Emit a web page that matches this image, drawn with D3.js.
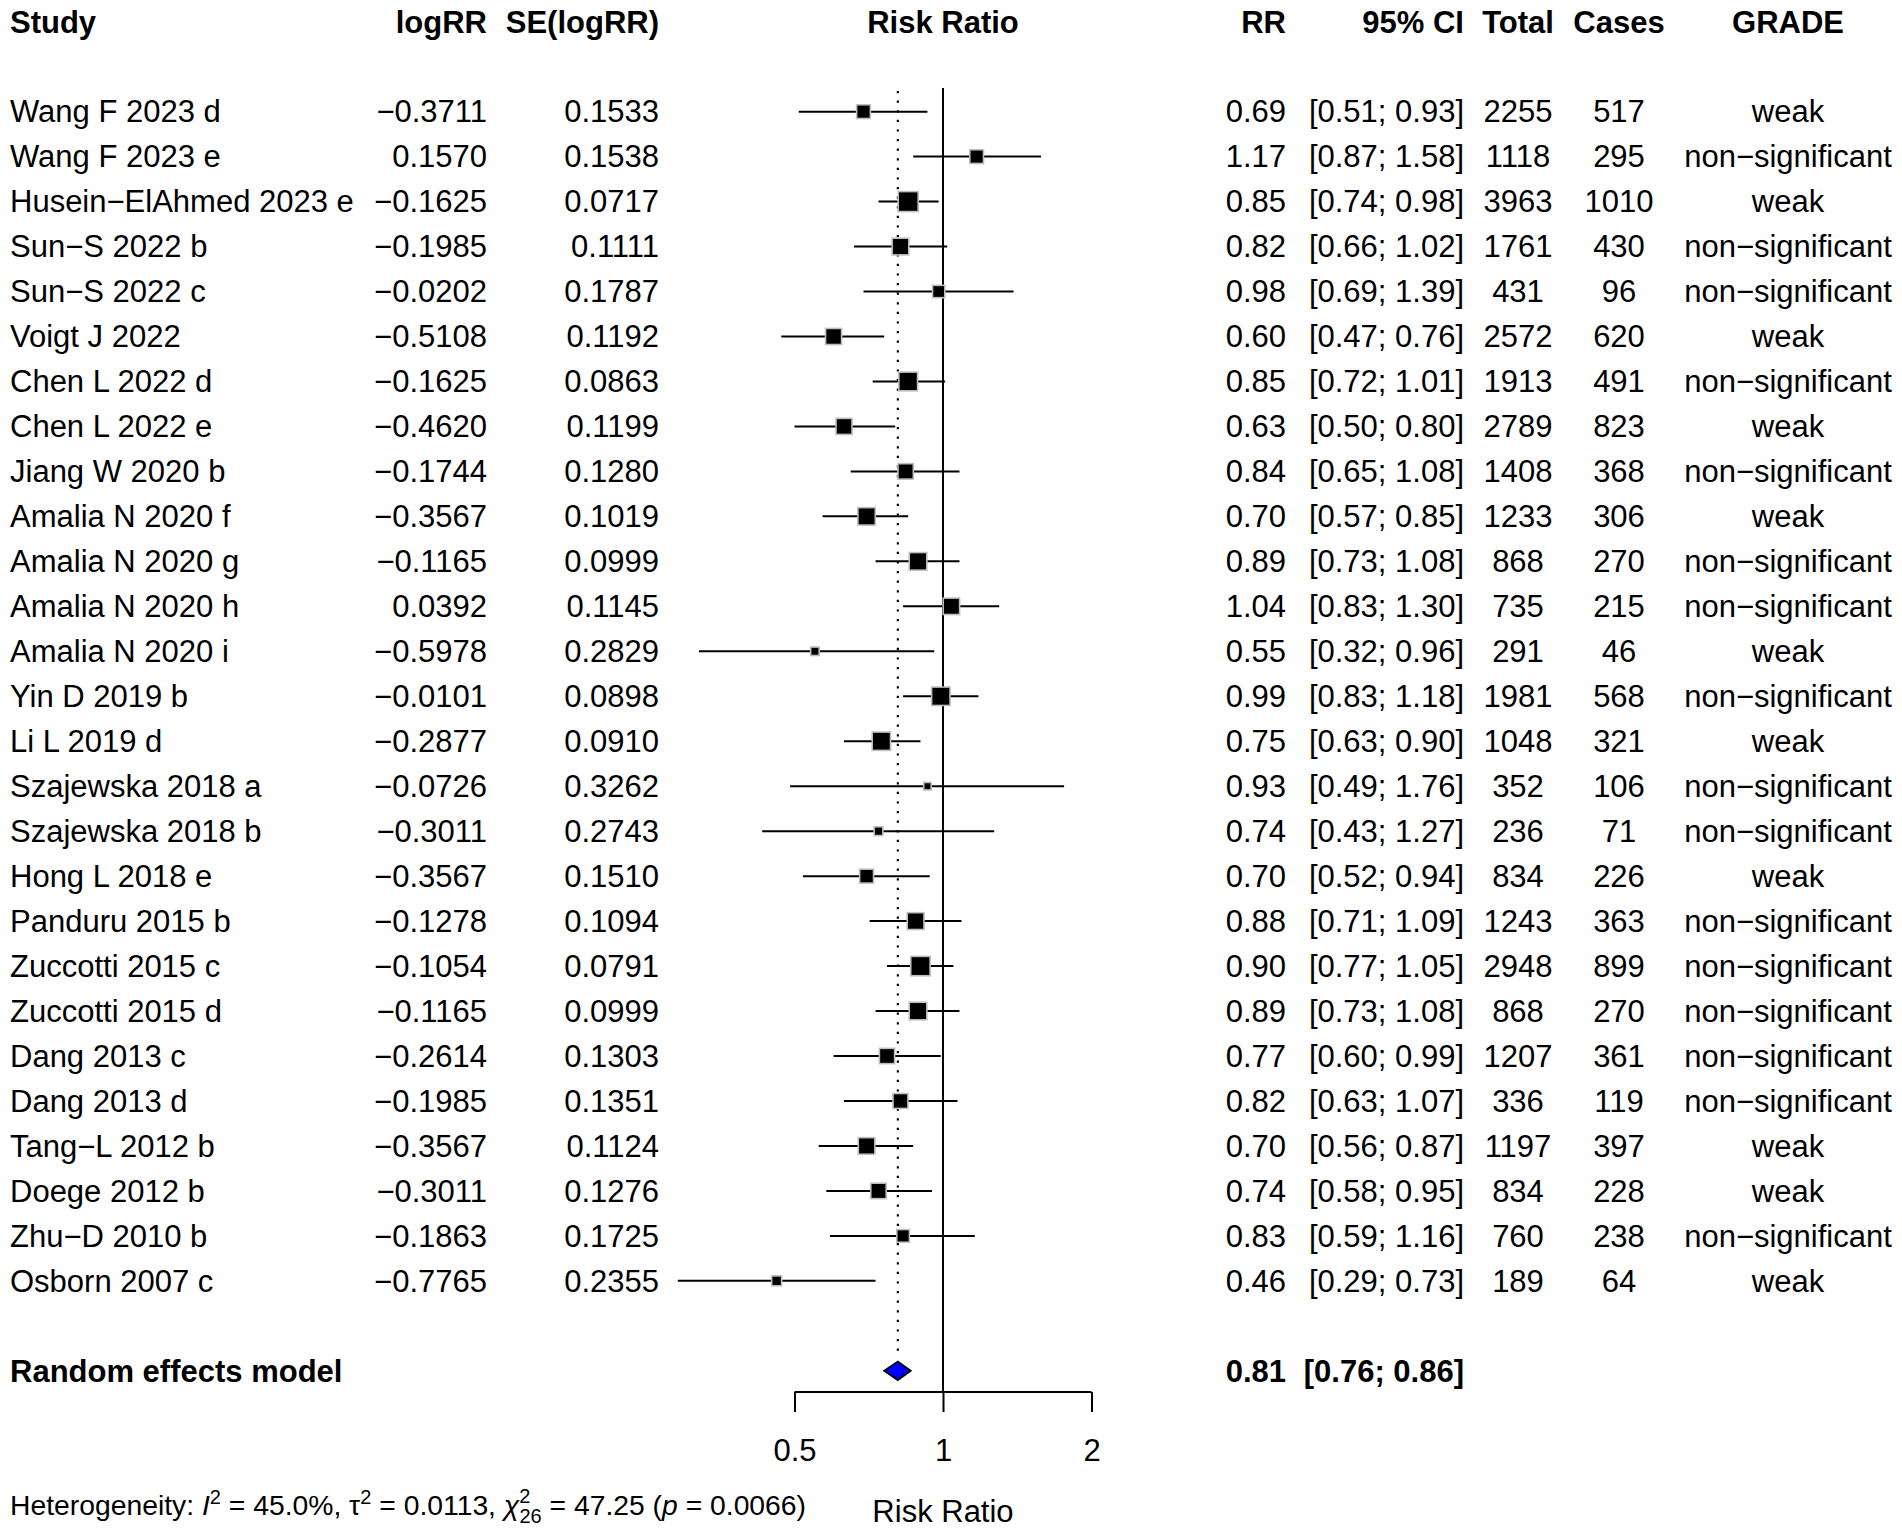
<!DOCTYPE html>
<html>
<head>
<meta charset="utf-8">
<script src="https://cdn.jsdelivr.net/npm/d3@7"></script>
<style>
  html, body { margin: 0; padding: 0; background: #fff; }
  svg text { font-family: "Liberation Sans", Arial, Helvetica, sans-serif; fill: #000; }
</style>
</head>
<body>
<svg id="chart" width="1902" height="1534"></svg>
<script>
// ---------------- DATA ----------------
const studies = ["Wang F 2023 d","Wang F 2023 e","Husein\u2212ElAhmed 2023 e","Sun\u2212S 2022 b","Sun\u2212S 2022 c",
  "Voigt J 2022","Chen L 2022 d","Chen L 2022 e","Jiang W 2020 b","Amalia N 2020 f","Amalia N 2020 g",
  "Amalia N 2020 h","Amalia N 2020 i","Yin D 2019 b","Li L 2019 d","Szajewska 2018 a","Szajewska 2018 b",
  "Hong L 2018 e","Panduru 2015 b","Zuccotti 2015 c","Zuccotti 2015 d","Dang 2013 c","Dang 2013 d",
  "Tang\u2212L 2012 b","Doege 2012 b","Zhu\u2212D 2010 b","Osborn 2007 c"];
const logRR = [-0.3711,0.1570,-0.1625,-0.1985,-0.0202,-0.5108,-0.1625,-0.4620,-0.1744,-0.3567,-0.1165,
  0.0392,-0.5978,-0.0101,-0.2877,-0.0726,-0.3011,-0.3567,-0.1278,-0.1054,-0.1165,-0.2614,-0.1985,
  -0.3567,-0.3011,-0.1863,-0.7765];
const seLogRR = [0.1533,0.1538,0.0717,0.1111,0.1787,0.1192,0.0863,0.1199,0.1280,0.1019,0.0999,
  0.1145,0.2829,0.0898,0.0910,0.3262,0.2743,0.1510,0.1094,0.0791,0.0999,0.1303,0.1351,
  0.1124,0.1276,0.1725,0.2355];
const rr = [0.69,1.17,0.85,0.82,0.98,0.60,0.85,0.63,0.84,0.70,0.89,1.04,0.55,0.99,0.75,0.93,0.74,
  0.70,0.88,0.90,0.89,0.77,0.82,0.70,0.74,0.83,0.46];
const ciLower = [0.51,0.87,0.74,0.66,0.69,0.47,0.72,0.50,0.65,0.57,0.73,0.83,0.32,0.83,0.63,0.49,0.43,
  0.52,0.71,0.77,0.73,0.60,0.63,0.56,0.58,0.59,0.29];
const ciUpper = [0.93,1.58,0.98,1.02,1.39,0.76,1.01,0.80,1.08,0.85,1.08,1.30,0.96,1.18,0.90,1.76,1.27,
  0.94,1.09,1.05,1.08,0.99,1.07,0.87,0.95,1.16,0.73];
const total = [2255,1118,3963,1761,431,2572,1913,2789,1408,1233,868,735,291,1981,1048,352,236,834,
  1243,2948,868,1207,336,1197,834,760,189];
const cases = [517,295,1010,430,96,620,491,823,368,306,270,215,46,568,321,106,71,226,363,899,270,
  361,119,397,228,238,64];
const grade = ["weak","non\u2212significant","weak","non\u2212significant","non\u2212significant","weak",
  "non\u2212significant","weak","non\u2212significant","weak","non\u2212significant","non\u2212significant",
  "weak","non\u2212significant","weak","non\u2212significant","non\u2212significant","weak",
  "non\u2212significant","non\u2212significant","non\u2212significant","non\u2212significant",
  "non\u2212significant","weak","weak","non\u2212significant","weak"];
const pooled = { label: "Random effects model", rr: 0.81, lower: 0.76, upper: 0.86 };
const tau2 = 0.0113;
const axisTicks = [0.5, 1, 2];
const headers = ["Study","logRR","SE(logRR)","Risk Ratio","RR","95% CI","Total","Cases","GRADE"];

// ---------------- LAYOUT ----------------
const svg = d3.select("#chart");
svg.append("rect").attr("width",1902).attr("height",1534).attr("fill","#fff");

const FS = 31;
const x = d3.scaleLog().domain([0.5, 2]).range([794.5, 1091.5]);
const row = d3.scaleLinear().domain([0, 30]).range([21.7, 21.7 + 44.97*30]);
const yStudy = i => row(i + 2);
const yPooled = row(30);

const fmtMinus = s => s.replace("-", "\u2212");
const f4 = v => fmtMinus(d3.format(".4f")(v));
const f2 = v => d3.format(".2f")(v);

const cols = [
  { key: "study",  x: 10,     anchor: "start" },
  { key: "logRR",  x: 487,    anchor: "end" },
  { key: "se",     x: 659,    anchor: "end" },
  { key: "plot",   x: x(1),   anchor: "middle" },
  { key: "rr",     x: 1286,   anchor: "end" },
  { key: "ci",     x: 1464,   anchor: "end" },
  { key: "total",  x: 1518,   anchor: "middle" },
  { key: "cases",  x: 1619,   anchor: "middle" },
  { key: "grade",  x: 1788,   anchor: "middle" }
];

function txt(g, xx, yy, s, anchor, opts = {}) {
  return g.append("text")
    .attr("x", xx).attr("y", yy).attr("dy", "0.35em")
    .attr("text-anchor", anchor)
    .attr("font-size", opts.size || FS)
    .attr("font-weight", opts.bold ? "bold" : "normal")
    .text(s);
}

// headers
const gHead = svg.append("g");
headers.forEach((h, i) => txt(gHead, cols[i].x, row(0), h, cols[i].anchor, { bold: true }));

// study text columns
const gText = svg.append("g");
studies.forEach((s, i) => {
  const yy = yStudy(i);
  txt(gText, cols[0].x, yy, s, "start");
  txt(gText, cols[1].x, yy, f4(logRR[i]), "end");
  txt(gText, cols[2].x, yy, f4(seLogRR[i]), "end");
  txt(gText, cols[4].x, yy, f2(rr[i]), "end");
  txt(gText, cols[5].x, yy, `[${f2(ciLower[i])}; ${f2(ciUpper[i])}]`, "end");
  txt(gText, cols[6].x, yy, String(total[i]), "middle");
  txt(gText, cols[7].x, yy, String(cases[i]), "middle");
  txt(gText, cols[8].x, yy, grade[i], "middle");
});

// pooled text
txt(gText, cols[0].x, yPooled, pooled.label, "start", { bold: true });
txt(gText, cols[4].x, yPooled, f2(pooled.rr), "end", { bold: true });
txt(gText, cols[5].x, yPooled, `[${f2(pooled.lower)}; ${f2(pooled.upper)}]`, "end", { bold: true });

// ---------------- PLOT ----------------
const gPlot = svg.append("g");
const axisY = 1392;

// reference line at 1
gPlot.append("line").attr("x1", x(1)).attr("x2", x(1)).attr("y1", 88).attr("y2", axisY)
  .attr("stroke", "#000").attr("stroke-width", 2);
// dotted line at pooled estimate
gPlot.append("line").attr("x1", x(pooled.rr)).attr("x2", x(pooled.rr)).attr("y1", 91).attr("y2", yPooled - 17)
  .attr("stroke", "#000").attr("stroke-width", 2.2).attr("stroke-dasharray", "2.2,7.4");

// weights -> square size
const weights = seLogRR.map(se => 1 / (se*se + tau2));
const sizeScale = d3.scaleSqrt().domain([0, d3.max(weights)]).range([0, 20]);

// CI lines
gPlot.selectAll("line.ci").data(studies).join("line").attr("class","ci")
  .attr("x1", (d,i) => x(ciLower[i])).attr("x2", (d,i) => x(ciUpper[i]))
  .attr("y1", (d,i) => yStudy(i)).attr("y2", (d,i) => yStudy(i))
  .attr("stroke", "#000").attr("stroke-width", 2);

// squares
gPlot.selectAll("rect.sq").data(studies).join("rect").attr("class","sq")
  .each(function(d, i) {
    const s = sizeScale(weights[i]);
    d3.select(this)
      .attr("x", x(Math.exp(logRR[i])) - s/2).attr("y", yStudy(i) - s/2)
      .attr("width", s).attr("height", s);
  })
  .attr("fill", "#000").attr("stroke", "#bebebe").attr("stroke-width", 1.6);

// diamond
const dh = 9.3;
gPlot.append("path")
  .attr("d", d3.line()([[x(pooled.lower), yPooled], [x(pooled.rr), yPooled - dh],
                         [x(pooled.upper), yPooled], [x(pooled.rr), yPooled + dh]]) + "Z")
  .attr("fill", "#0000ff").attr("stroke", "#000").attr("stroke-width", 1.8);

// x axis
const axis = d3.axisBottom(x).tickValues(axisTicks).tickFormat(d3.format("")).tickSize(20).tickSizeOuter(0);
const gAxis = svg.append("g").attr("transform", `translate(0,${axisY})`).call(axis);
gAxis.select(".domain").attr("stroke", "#000").attr("stroke-width", 2)
  .attr("d", `M${x(0.5)},0H${x(2)}`);
gAxis.selectAll(".tick line").attr("stroke", "#000").attr("stroke-width", 2);
gAxis.selectAll(".tick text").attr("font-size", 31).attr("fill", "#000")
  .attr("font-family", '"Liberation Sans", Arial, sans-serif')
  .attr("y", 58).attr("dy", "0.35em");

// x label
txt(svg, x(1), 1511, "Risk Ratio", "middle", { size: 31 });

// heterogeneity text
const het = svg.append("text").attr("x", 10).attr("y", 1505).attr("dy", "0.35em")
  .attr("font-size", 28.3);
het.append("tspan").text("Heterogeneity: ");
het.append("tspan").attr("font-style", "italic").text("I");
het.append("tspan").attr("font-size", 20).attr("dy", -11).text("2");
het.append("tspan").attr("dy", 11).text(" = 45.0%, \u03c4");
het.append("tspan").attr("font-size", 20).attr("dy", -11).text("2");
het.append("tspan").attr("dy", 11).text(" = 0.0113, ");
het.append("tspan").attr("font-style", "italic").text("\u03c7");
het.append("tspan").attr("font-size", 20).attr("dy", -12).text("2");
het.append("tspan").attr("font-size", 20).attr("dx", -11).attr("dy", 20).text("26");
het.append("tspan").attr("dy", -8).text(" = 47.25 (");
het.append("tspan").attr("font-style", "italic").text("p");
het.append("tspan").text(" = 0.0066)");
</script>
</body>
</html>
